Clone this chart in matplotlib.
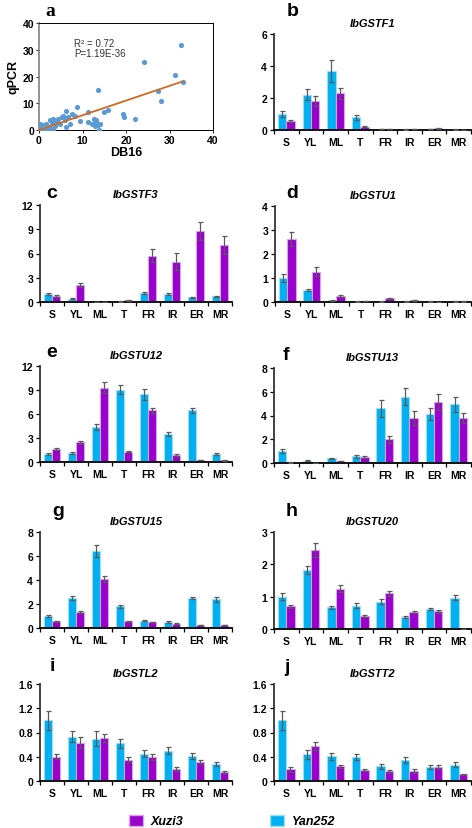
import numpy as np
import matplotlib
matplotlib.use('Agg')
import matplotlib.pyplot as plt
from matplotlib.patches import Patch

plt.rcParams['font.family'] = ['Liberation Sans', 'DejaVu Sans']

W, H = 472, 829

# panel a: DB16 vs qPCR
db16 = [32.7, 24.1, 31.2, 33.0, 27.4, 28.1, 13.5, 8.8, 6.3, 11.2, 14.9, 15.9, 19.3, 19.5,
        22.0, 13.8, 12.7, 13.2, 11.3, 12.1, 14.0, 12.8, 9.4, 7.5, 8.3, 6.7, 6.0, 5.6, 5.2,
        4.4, 3.3, 2.5, 4.1, 4.8, 2.9, 1.8, 1.0, 0.2, 0.6, 0.0, 1.4, 2.1, 6.3, 3.3, 7.1,
        0.5, 0.8, 1.2, 1.6, 2.3, 3.0, 3.6, 0.3, 0.9, 1.5, 2.6, 4.0, 5.8, 13.0, 13.6]
qpcr = [31.6, 25.4, 20.4, 17.9, 14.5, 10.75, 15.0, 8.75, 7.25, 6.6, 6.6, 7.5, 6.0, 5.0,
        4.1, 0.0, 4.1, 2.9, 3.1, 2.25, 2.25, 1.6, 3.5, 6.0, 5.4, 4.75, 3.9, 5.4, 4.75,
        4.1, 4.1, 3.9, 2.9, 2.25, 2.6, 1.6, 1.0, 2.25, 0.4, 0.0, 0.4, 0.6, 1.0, 0.4, 2.25,
        1.8, 2.0, 0.2, 2.2, 1.2, 3.5, 1.5, 1.0, 0.1, 1.8, 0.8, 3.0, 5.0, 3.8, 2.0]
fit_slope, fit_intercept = 0.55, 0.0

tissues = ['S', 'YL', 'ML', 'T', 'FR', 'IR', 'ER', 'MR']

genes = ['IbGSTF1', 'IbGSTF3', 'IbGSTU1', 'IbGSTU12', 'IbGSTU13',
         'IbGSTU15', 'IbGSTU20', 'IbGSTL2', 'IbGSTT2']
letters = ['b', 'c', 'd', 'e', 'f', 'g', 'h', 'i', 'j']

yan = {
    'IbGSTF1': [1.0, 2.2, 3.7, 0.8, 0.05, 0.03, 0.05, 0.03],
    'IbGSTF3': [1.0, 0.4, 0.05, 0.08, 1.1, 1.0, 0.6, 0.7],
    'IbGSTU1': [1.0, 0.5, 0.08, 0.02, 0.02, 0.02, 0.02, 0.02],
    'IbGSTU12': [1.0, 1.15, 4.4, 9.05, 8.45, 3.5, 6.45, 1.0],
    'IbGSTU13': [1.0, 0.2, 0.4, 0.55, 4.6, 5.6, 4.15, 4.95],
    'IbGSTU15': [1.0, 2.5, 6.4, 1.8, 0.6, 0.5, 2.5, 2.4],
    'IbGSTU20': [1.0, 1.82, 0.67, 0.72, 0.85, 0.38, 0.62, 0.97],
    'IbGSTL2': [1.0, 0.73, 0.7, 0.62, 0.45, 0.5, 0.41, 0.28],
    'IbGSTT2': [1.0, 0.44, 0.41, 0.39, 0.24, 0.35, 0.23, 0.27],
}
yan_err = {
    'IbGSTF1': [0.2, 0.35, 0.7, 0.15, 0.01, 0.01, 0.01, 0.01],
    'IbGSTF3': [0.15, 0.05, 0.01, 0.02, 0.15, 0.15, 0.08, 0.1],
    'IbGSTU1': [0.15, 0.05, 0.02, 0.01, 0.01, 0.01, 0.01, 0.01],
    'IbGSTU12': [0.1, 0.1, 0.35, 0.55, 0.65, 0.25, 0.3, 0.1],
    'IbGSTU13': [0.18, 0.04, 0.06, 0.1, 0.7, 0.7, 0.5, 0.65],
    'IbGSTU15': [0.08, 0.15, 0.5, 0.12, 0.05, 0.05, 0.12, 0.2],
    'IbGSTU20': [0.1, 0.12, 0.05, 0.07, 0.07, 0.03, 0.04, 0.08],
    'IbGSTL2': [0.16, 0.09, 0.12, 0.08, 0.06, 0.06, 0.05, 0.03],
    'IbGSTT2': [0.16, 0.07, 0.06, 0.05, 0.04, 0.05, 0.03, 0.04],
}
xuzi = {
    'IbGSTF1': [0.55, 1.8, 2.3, 0.2, 0.07, 0.05, 0.1, 0.02],
    'IbGSTF3': [0.75, 2.05, 0.05, 0.2, 5.7, 5.0, 8.8, 7.05],
    'IbGSTU1': [2.62, 1.27, 0.25, 0.04, 0.15, 0.08, 0.01, 0.02],
    'IbGSTU12': [1.65, 2.45, 9.3, 1.3, 6.45, 0.9, 0.25, 0.2],
    'IbGSTU13': [0.05, 0.03, 0.18, 0.5, 2.0, 3.8, 5.15, 3.8],
    'IbGSTU15': [0.55, 1.35, 4.1, 0.55, 0.5, 0.35, 0.25, 0.25],
    'IbGSTU20': [0.7, 2.45, 1.25, 0.4, 1.1, 0.52, 0.55, 0.0],
    'IbGSTL2': [0.4, 0.63, 0.71, 0.35, 0.4, 0.2, 0.31, 0.15],
    'IbGSTT2': [0.19, 0.58, 0.24, 0.18, 0.16, 0.17, 0.23, 0.11],
}
xuzi_err = {
    'IbGSTF1': [0.08, 0.3, 0.35, 0.04, 0.01, 0.01, 0.02, 0.01],
    'IbGSTF3': [0.1, 0.25, 0.01, 0.03, 0.8, 1.1, 1.1, 1.1],
    'IbGSTU1': [0.3, 0.17, 0.03, 0.01, 0.02, 0.02, 0.01, 0.01],
    'IbGSTU12': [0.15, 0.15, 0.7, 0.1, 0.35, 0.1, 0.03, 0.02],
    'IbGSTU13': [0.01, 0.01, 0.02, 0.1, 0.3, 0.6, 0.65, 0.45],
    'IbGSTU15': [0.05, 0.1, 0.25, 0.04, 0.04, 0.04, 0.03, 0.03],
    'IbGSTU20': [0.05, 0.22, 0.1, 0.03, 0.08, 0.04, 0.05, 0.0],
    'IbGSTL2': [0.04, 0.09, 0.07, 0.04, 0.05, 0.03, 0.03, 0.02],
    'IbGSTT2': [0.04, 0.07, 0.03, 0.02, 0.02, 0.03, 0.03, 0.01],
}
yticks = {
    'IbGSTF1': [0, 2, 4, 6],
    'IbGSTF3': [0, 3, 6, 9, 12],
    'IbGSTU1': [0, 1, 2, 3, 4],
    'IbGSTU12': [0, 3, 6, 9, 12],
    'IbGSTU13': [0, 2, 4, 6, 8],
    'IbGSTU15': [0, 2, 4, 6, 8],
    'IbGSTU20': [0, 1, 2, 3],
    'IbGSTL2': [0, 0.4, 0.8, 1.2, 1.6],
    'IbGSTT2': [0, 0.4, 0.8, 1.2, 1.6],
}

# axes boxes in pixels: left, right, top, bottom
boxes = {
    'a': (39, 213, 24, 131),
    'b': (274, 471, 35, 131),
    'c': (40, 232, 206, 303),
    'd': (275, 471, 207, 303),
    'e': (40, 232, 367, 463),
    'f': (274, 471, 369, 464),
    'g': (40, 232, 533, 629),
    'h': (274, 471, 533, 630),
    'i': (40, 232, 685, 782),
    'j': (274, 471, 685, 782),
}
letter_pos = {
    'a': (50, 12), 'b': (293, 12), 'c': (52, 193), 'd': (292, 193),
    'e': (52, 353), 'f': (286, 355), 'g': (58, 512), 'h': (292, 512),
    'i': (52, 667), 'j': (287, 668),
}

YAN_C, YAN_E = '#00B0F0', '#9ADDF7'
XUZI_C, XUZI_E = '#9900CC', '#D7A3EC'


def make_ax(fig, key):
    l, r, t, b = boxes[key]
    return fig.add_axes([l / W, 1 - b / H, (r - l) / W, (b - t) / H])


fig = plt.figure(figsize=(W / 100, H / 100), dpi=100)

# panel a
ax = make_ax(fig, 'a')
ax.scatter(db16, qpcr, s=14, color='#5B9BD5', zorder=3, linewidths=0)
xs = np.array([0, max(db16)])
ax.plot(xs, fit_slope * xs + fit_intercept, color='#D2691E', lw=1.3, zorder=4)
ax.set_xlim(0, 40)
ax.set_ylim(0, 40)
ax.set_xticks([0, 10, 20, 30, 40])
ax.set_yticks([0, 10, 20, 30, 40])
ax.tick_params(labelsize=7.5, length=2, width=0.6, pad=1.5)
for lab in ax.get_xticklabels() + ax.get_yticklabels():
    lab.set_fontweight('bold')
for s in ['top', 'right', 'bottom']:
    ax.spines[s].set_linewidth(0.7)
ax.spines['left'].set_color('#808080')
ax.spines['left'].set_linewidth(1.2)
ax.text(8, 31.5, 'R² = 0.72', fontsize=7, color='#333333')
ax.text(8, 27.5, 'P=1.19E-36', fontsize=7, color='#333333')
ax.set_xlabel('DB16', fontsize=9, fontweight='bold', labelpad=1)
ax.set_ylabel('qPCR', fontsize=9, fontweight='bold', labelpad=2)
fig.text(letter_pos['a'][0] / W, 1 - letter_pos['a'][1] / H, 'a', fontsize=14,
         fontweight='bold', family='Liberation Serif', ha='center', va='center')

x = np.arange(len(tissues))
bw = 0.34
for gene, letter in zip(genes, letters):
    ax = make_ax(fig, letter)
    ax.bar(x - bw / 2, yan[gene], bw, color=YAN_C, edgecolor=YAN_E, linewidth=0.8, zorder=2)
    ax.bar(x + bw / 2, xuzi[gene], bw, color=XUZI_C, edgecolor=XUZI_E, linewidth=0.8, zorder=2)
    ax.errorbar(x - bw / 2, yan[gene], yerr=yan_err[gene], fmt='none', ecolor='#5a5a5a',
                elinewidth=0.9, capsize=1.8, capthick=0.9, zorder=3)
    ax.errorbar(x + bw / 2, xuzi[gene], yerr=xuzi_err[gene], fmt='none', ecolor='#5a5a5a',
                elinewidth=0.9, capsize=1.8, capthick=0.9, zorder=3)
    ax.set_xlim(-0.5, len(tissues) - 0.5)
    ax.set_ylim(0, yticks[gene][-1])
    ax.set_yticks(yticks[gene])
    ax.set_yticklabels([('%g' % v) for v in yticks[gene]])
    ax.set_xticks(x)
    ax.set_xticklabels(tissues)
    ax.set_xticks(np.arange(-0.5, len(tissues), 1), minor=True)
    ax.tick_params(axis='x', which='major', length=0, labelsize=7.5, pad=5)
    ax.tick_params(axis='x', which='minor', length=3, width=0.9, direction='out')
    ax.tick_params(axis='y', length=3, width=0.9, labelsize=7.5, pad=2)
    for lab in ax.get_xticklabels() + ax.get_yticklabels():
        lab.set_fontweight('bold')
    ax.spines['top'].set_visible(False)
    ax.spines['right'].set_visible(False)
    ax.spines['left'].set_linewidth(1.3)
    ax.spines['left'].set_color('#333333')
    ax.spines['bottom'].set_linewidth(1.3)
    ax.set_title(gene, fontsize=8, fontweight='bold', style='italic', pad=6)
    lx, ly = letter_pos[letter]
    fig.text(lx / W, 1 - ly / H, letter, fontsize=14, fontweight='bold',
             ha='center', va='center')

handles = [Patch(facecolor=XUZI_C, edgecolor=XUZI_E, label='Xuzi3'),
           Patch(facecolor=YAN_C, edgecolor=YAN_E, label='Yan252')]
fig.legend(handles=handles, loc='center', bbox_to_anchor=(232 / W, 1 - 822 / H), ncol=2,
           frameon=False, columnspacing=7, handlelength=1.1, handleheight=1.0,
           handletextpad=0.6, prop={'size': 9, 'weight': 'bold', 'style': 'italic'})

fig.savefig('out.png', dpi=100)
